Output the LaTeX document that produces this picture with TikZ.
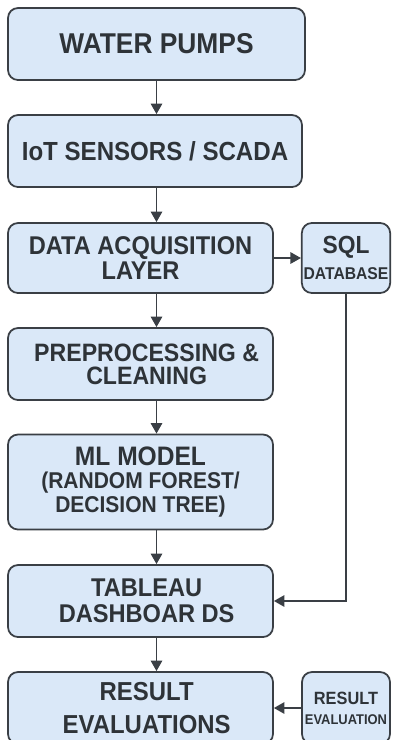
\documentclass[tikz,border=0pt]{standalone}
\usepackage{fontspec}
\setmainfont[FakeStretch=0.92]{Liberation Sans}
\usetikzlibrary{arrows.meta}
\definecolor{boxfill}{HTML}{DAE8F8}
\definecolor{boxline}{HTML}{3A3F45}
\definecolor{boxtext}{HTML}{2E3338}
\tikzset{
	blk/.style={draw=boxline,fill=boxfill,line width=1pt,rounded corners=0.2cm,
		align=center,text=boxtext,font=\bfseries,inner sep=1pt},
	arr/.style={draw=boxline,line width=1pt,-{Triangle[length=6pt,width=6.5pt]}}
}
\newcommand{\nudge}{\hspace*{7pt}}
\begin{document}
\begin{tikzpicture}
	\useasboundingbox (0,0) rectangle (7.9,-14.8);
	\node[blk,minimum width=5.94cm,minimum height=1.44cm,font=\bfseries\fontsize{16.3}{17}\selectfont] (pumps) at (3.13,-0.88) {WATER PUMPS};
	\node[blk,minimum width=5.88cm,minimum height=1.44cm,font=\bfseries\fontsize{14.9}{16}\selectfont] (iot) at (3.1,-3.02) {IoT SENSORS / SCADA};
	\node[blk,minimum width=5.3cm,minimum height=1.4cm,font=\bfseries\fontsize{14.6}{14.2}\selectfont] (acq) at (2.81,-5.16) {DATA ACQUISITION\\LAYER};
	\node[blk,minimum width=1.76cm,minimum height=1.4cm,font=\bfseries\fontsize{14.1}{14.5}\selectfont] (sql) at (6.92,-5.16) {SQL\\{\fontsize{9.7}{11}\selectfont DATABASE}};
	\node[blk,minimum width=5.3cm,minimum height=1.44cm,font=\bfseries\fontsize{14.3}{13.2}\selectfont] (prep) at (2.81,-7.28) {\nudge PREPROCESSING \&\\\nudge CLEANING};
	\node[blk,minimum width=5.3cm,minimum height=1.9cm,font=\bfseries\fontsize{15.2}{13.2}\selectfont] (ml) at (2.81,-9.64) {ML MODEL\\{\fontsize{13}{13.2}\selectfont (RANDOM FOREST/\hspace{10pt}}\\{\fontsize{13}{13.2}\selectfont DECISION TREE)\hspace{5.7pt}}};
	\node[blk,minimum width=5.3cm,minimum height=1.44cm,font=\bfseries\fontsize{14.6}{14.8}\selectfont] (dash) at (2.81,-12.02) {\nudge TABLEAU\\\nudge DASHBOAR DS};
	\node[blk,minimum width=5.3cm,minimum height=1.44cm,font=\bfseries\fontsize{14.8}{19}\selectfont] (res) at (2.81,-14.16) {\nudge RESULT\\\nudge EVALUATIONS};
	\node[blk,minimum width=1.76cm,minimum height=1.44cm,font=\bfseries\fontsize{10.1}{11.5}\selectfont] (eval) at (6.92,-14.16) {RESULT\\{\fontsize{8}{11.5}\selectfont EVALUATION}};
	% main flow
	\draw[arr] (pumps.south) -- (iot.north -| pumps.south);
	\draw[arr] (iot.south -| pumps.south) -- (acq.north -| pumps.south);
	\draw[arr] (acq.south -| pumps.south) -- (prep.north -| pumps.south);
	\draw[arr] (prep.south -| pumps.south) -- (ml.north -| pumps.south);
	\draw[arr] (ml.south -| pumps.south) -- (dash.north -| pumps.south);
	\draw[arr] (dash.south -| pumps.south) -- (res.north -| pumps.south);
	% side links
	\draw[arr] (acq.east) -- (sql.west);
	\draw[arr] (sql.south) |- (dash.east);
	\draw[arr] (eval.west) -- (res.east);
\end{tikzpicture}
\end{document}
